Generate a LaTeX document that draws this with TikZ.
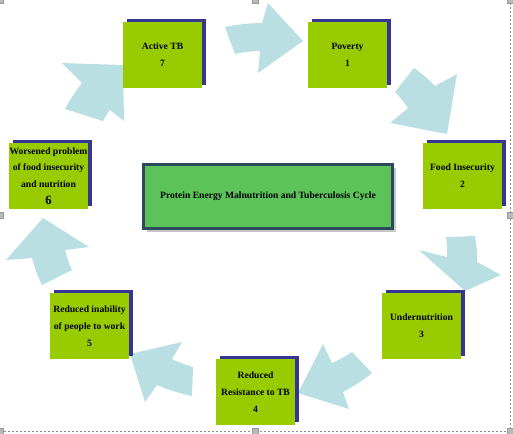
\documentclass[tikz,border=0pt]{standalone}
\usepackage{fontspec}
\setmainfont{Liberation Serif}
\usetikzlibrary{shadows}
\definecolor{boxgreen}{HTML}{99CC00}
\definecolor{boxshade}{HTML}{363692}
\definecolor{corefill}{HTML}{5CC35A}
\definecolor{coreedge}{HTML}{2B4A5E}
\definecolor{flow}{HTML}{BADFE3}
\definecolor{frameline}{HTML}{8C8C8C}

\begin{document}
\begin{tikzpicture}[x=0.75pt,y=-0.75pt,
  stage/.style={fill=boxgreen,minimum width=59.25pt,minimum height=49.5pt,inner sep=0pt,align=center,
    font=\fontsize{7.2}{12.6}\selectfont\bfseries,
    drop shadow={shadow xshift=3pt,shadow yshift=2.25pt,fill=boxshade,opacity=1}},
  core/.style={draw=coreedge,line width=2.25pt,fill=corefill,minimum width=186.75pt,minimum height=48pt,
    font=\fontsize{7.2}{9}\selectfont\bfseries,
    drop shadow={shadow xshift=2.4pt,shadow yshift=-2.4pt,fill=black!22,opacity=1}},
  flowarr/.style={fill=flow},
  handle/.style={fill=gray!55,draw=gray!80,line width=.4pt,minimum size=4.5pt,inner sep=0pt}]
 \useasboundingbox (0,0) rectangle (513,433);
 \fill[flowarr] (225,27) to[bend left=5] (262,23) -- (268,3) -- (303,41) -- (258,73) -- (260,51) to[bend right=5] (235,54) -- cycle;
 \fill[flowarr] (414,68) to[bend left=5] (435,86) -- (457,74) -- (447,134) -- (390,123) -- (408,108) to[bend right=5] (395,92) -- cycle;
 \fill[flowarr] (475,236) to[bend left=5] (477,262) -- (501,275) -- (465,291) -- (419,250) -- (447,257) to[bend right=5] (446,237) -- cycle;
 \fill[flowarr] (372,373) to[bend left=5] (343,392) -- (349,409) -- (298,393) -- (323,344) -- (332,363) to[bend right=5] (352,352) -- cycle;
 \fill[flowarr] (192,396) to[bend left=5] (157,385) -- (145,402) -- (130,354) -- (182,342) -- (172,359) to[bend right=5] (193,367) -- cycle;
 \fill[flowarr] (42,285) to[bend left=5] (32,258) -- (6,260) -- (43,218) -- (89,247) -- (65,250) to[bend right=5] (72,270) -- cycle;
 \fill[flowarr] (65,109) to[bend left=5] (82,83) -- (62,63) -- (123,65) -- (124,121) -- (110,110) to[bend right=5] (103,121) -- cycle;
 \node[stage] (tb) at (162.5,55) {Active TB\\7};
 \node[stage] (pov) at (347.5,55) {Poverty\\1};
 \node[stage] (food) at (462.5,176) {Food Insecurity\\2};
 \node[stage] (under) at (421.5,326) {Undernutrition\\3};
 \node[stage] (resist) at (255.5,392) {Reduced\\Resistance to TB\\4};
 \node[stage] (work) at (89.5,326) {Reduced inability\\of people to work\\5};
 \node[stage] (worse) at (48.5,176) {Worsened problem\\of food insecurity\\and nutrition\\{\fontsize{9.5}{12.6}\selectfont 6}};
 \node[core] (cycle) at (268,196.5) {Protein Energy Malnutrition and Tuberculosis Cycle};
 \draw[frameline,line width=.5pt,dash pattern=on 1.5pt off 1.5pt] (0,431) -- (510,431) -- (510,0);
 \node[handle] (h1) at (0,0) {};
 \node[handle] (h2) at (255,0) {};
 \node[handle] (h3) at (510,0) {};
 \node[handle] (h4) at (0,215) {};
 \node[handle] (h5) at (510,215) {};
 \node[handle] (h6) at (0,431) {};
 \node[handle] (h7) at (255,431) {};
 \node[handle] (h8) at (510,431) {};
\end{tikzpicture}
\end{document}
